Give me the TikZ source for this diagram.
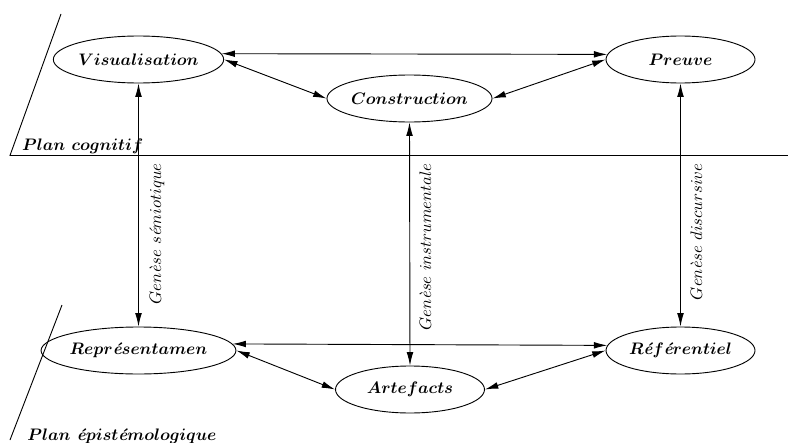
\documentclass[tikz,border=0pt]{standalone}
\usetikzlibrary{shapes.geometric,arrows.meta}
\newcommand{\eac}{\mbox{\itshape é}}
\newcommand{\egr}{\mbox{\itshape è}}
\begin{document}
\begin{tikzpicture}[x=0.6pt,y=-0.6pt,line width=0.55pt,
  el/.style={draw,ellipse,minimum width=89.4pt,minimum height=28.2pt,inner sep=0pt,font=\boldmath\bfseries},
  link/.style={{Latex[length=8pt,width=4pt]}-{Latex[length=8pt,width=4pt]}},
  gen/.style={rotate=90,anchor=north east,inner sep=0pt},
  plan/.style={inner sep=1pt,font=\boldmath\bfseries}]
\useasboundingbox (0,0) rectangle (788,443);
% planes
\coordinate (c1) at (10,155.5);
\coordinate (c2) at (61,14);
\coordinate (c3) at (788,155.5);
\draw (c2) -- (c1) -- (c3);
\coordinate (e1) at (62,305);
\coordinate (e2) at (10,440);
\draw (e1) -- (e2);
\node[plan,anchor=south west] (pc) at (20,155.5) {$Plan~cognitif$};
\node[plan] (pe) at (122,436) {$Plan~\eac pist\eac mologique$};
% nodes
\node[el] (vis) at (138.5,59.5) {$Visualisation$};
\node[el] (pre) at (680.5,59.5) {$Preuve$};
\node[el] (con) at (409.5,98.5) {$Construction$};
\node[el] (rep) at (138.5,350.5) {$Repr\eac sentamen$};
\node[el] (ref) at (680.5,350.5) {$R\eac f\eac rentiel$};
\node[el] (art) at (410,389.5) {$Artefacts$};
% links
\draw[link] (vis.4) -- (pre.176);
\draw[link] (vis.east) -- (con.west);
\draw[link] (con.east) -- (pre.west);
\draw[link] (rep.4) -- (ref.176);
\draw[link] (rep.east) -- (art.west);
\draw[link] (art.east) -- (ref.west);
\draw[link] (vis.south) -- (rep.north);
\draw[link] (con.south) -- (art.north);
\draw[link] (pre.south) -- (ref.north);
% labels
\node[gen] (g1) at (149,163) {$Gen\egr se~s\eac miotique$};
\node[gen] (g2) at (419,163) {$Gen\egr se~instrumentale$};
\node[gen] (g3) at (690,163) {$Gen\egr se~discursive$};
\end{tikzpicture}
\end{document}
